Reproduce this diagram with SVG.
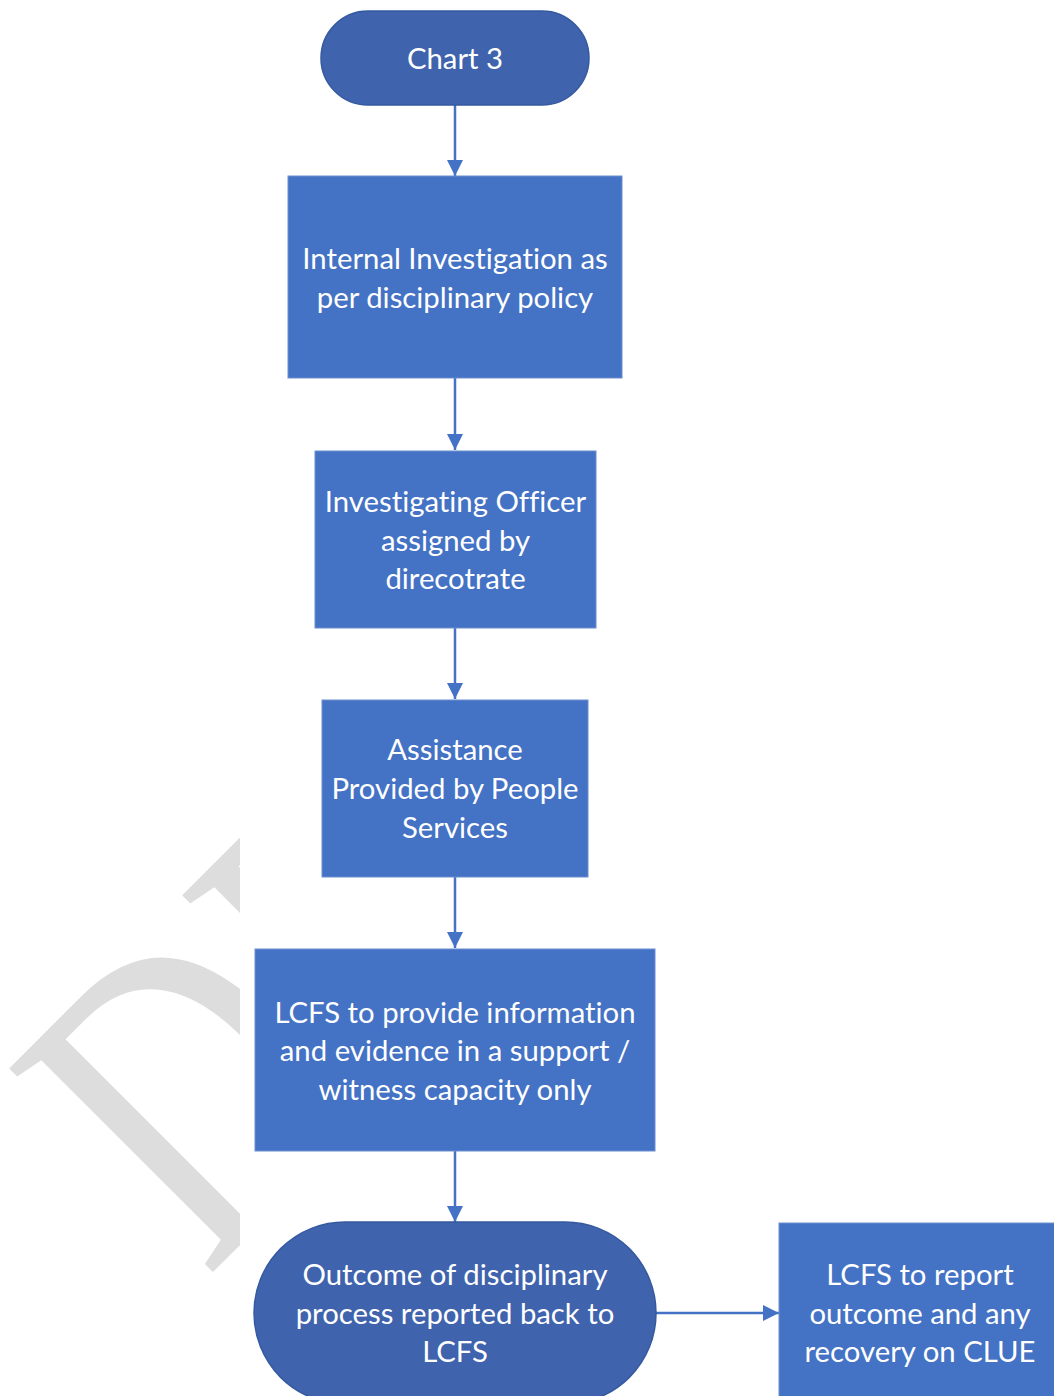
<svg xmlns="http://www.w3.org/2000/svg" width="1054" height="1396" viewBox="0 0 1054 1396">
  <style>
    .rect { fill: #4472C4; stroke: #6d8fd0; stroke-width: 1; }
    .pill { fill: #3F63AD; stroke: #35599f; stroke-width: 1.5; }
    .lbl { font-family: Lato, "Open Sans", "DejaVu Sans", sans-serif; font-size: 29.3px; fill: #FFFFFF; text-anchor: middle; font-variant-ligatures: none; font-feature-settings: "liga" 0, "dlig" 0; }
    .conn { stroke: #4472C4; stroke-width: 2.5; fill: none; }
    .wm { font-family: "Liberation Serif", "DejaVu Serif", serif; font-size: 440px; fill: #DDDDDD; }
  </style>
  <defs>
    <marker id="arrow" viewBox="0 0 10 10" refX="10" refY="5" markerWidth="6.5" markerHeight="6.5" orient="auto" markerUnits="strokeWidth">
      <path d="M0,0 L10,5 L0,10 Z" fill="#4472C4"/>
    </marker>
    <clipPath id="wmclip">
      <rect x="0" y="0" width="240" height="1396"/>
    </clipPath>
  </defs>
  <rect x="0" y="0" width="1054" height="1396" fill="#FFFFFF"/>

  <g id="watermark" clip-path="url(#wmclip)">
    <text class="wm" transform="translate(206,1279) rotate(-45) scale(0.77,1)">DRAFT</text>
  </g>

  <g id="connectors">
    <line class="conn" x1="455" y1="105" x2="455" y2="176" marker-end="url(#arrow)"/>
    <line class="conn" x1="455" y1="378" x2="455" y2="450" marker-end="url(#arrow)"/>
    <line class="conn" x1="455" y1="628" x2="455" y2="699" marker-end="url(#arrow)"/>
    <line class="conn" x1="455" y1="877" x2="455" y2="948" marker-end="url(#arrow)"/>
    <line class="conn" x1="455" y1="1151" x2="455" y2="1222" marker-end="url(#arrow)"/>
    <line class="conn" x1="656" y1="1313" x2="779" y2="1313" marker-end="url(#arrow)"/>
  </g>

  <g id="node-chart3">
    <rect class="pill" x="321" y="11" width="268" height="94" rx="47" ry="47"/>
    <text class="lbl" x="455" y="69">Chart 3</text>
  </g>

  <g id="node-internal-investigation">
    <rect class="rect" x="288" y="176" width="334" height="202"/>
    <text class="lbl" x="455" y="269">Internal Investigation as</text>
    <text class="lbl" x="455" y="308">per disciplinary policy</text>
  </g>

  <g id="node-investigating-officer">
    <rect class="rect" x="315" y="451" width="281" height="177"/>
    <text class="lbl" x="455.5" y="512">Investigating Officer</text>
    <text class="lbl" x="455.5" y="551">assigned by</text>
    <text class="lbl" x="455.5" y="589">direcotrate</text>
  </g>

  <g id="node-assistance">
    <rect class="rect" x="322" y="700" width="266" height="177"/>
    <text class="lbl" x="455" y="760">Assistance</text>
    <text class="lbl" x="455" y="799">Provided by People</text>
    <text class="lbl" x="455" y="838">Services</text>
  </g>

  <g id="node-lcfs-provide">
    <rect class="rect" x="255" y="949" width="400" height="202"/>
    <text class="lbl" x="455" y="1023">LCFS to provide information</text>
    <text class="lbl" x="455" y="1061">and evidence in a support /</text>
    <text class="lbl" x="455" y="1100">witness capacity only</text>
  </g>

  <g id="node-outcome">
    <rect class="pill" x="254" y="1222" width="402" height="182" rx="91" ry="91"/>
    <text class="lbl" x="455" y="1285">Outcome of disciplinary</text>
    <text class="lbl" x="455" y="1324">process reported back to</text>
    <text class="lbl" x="455" y="1362">LCFS</text>
  </g>

  <g id="node-lcfs-report">
    <rect class="rect" x="779" y="1223" width="282" height="180"/>
    <text class="lbl" x="920" y="1285">LCFS to report</text>
    <text class="lbl" x="920" y="1324">outcome and any</text>
    <text class="lbl" x="920" y="1362">recovery on CLUE</text>
  </g>
</svg>
